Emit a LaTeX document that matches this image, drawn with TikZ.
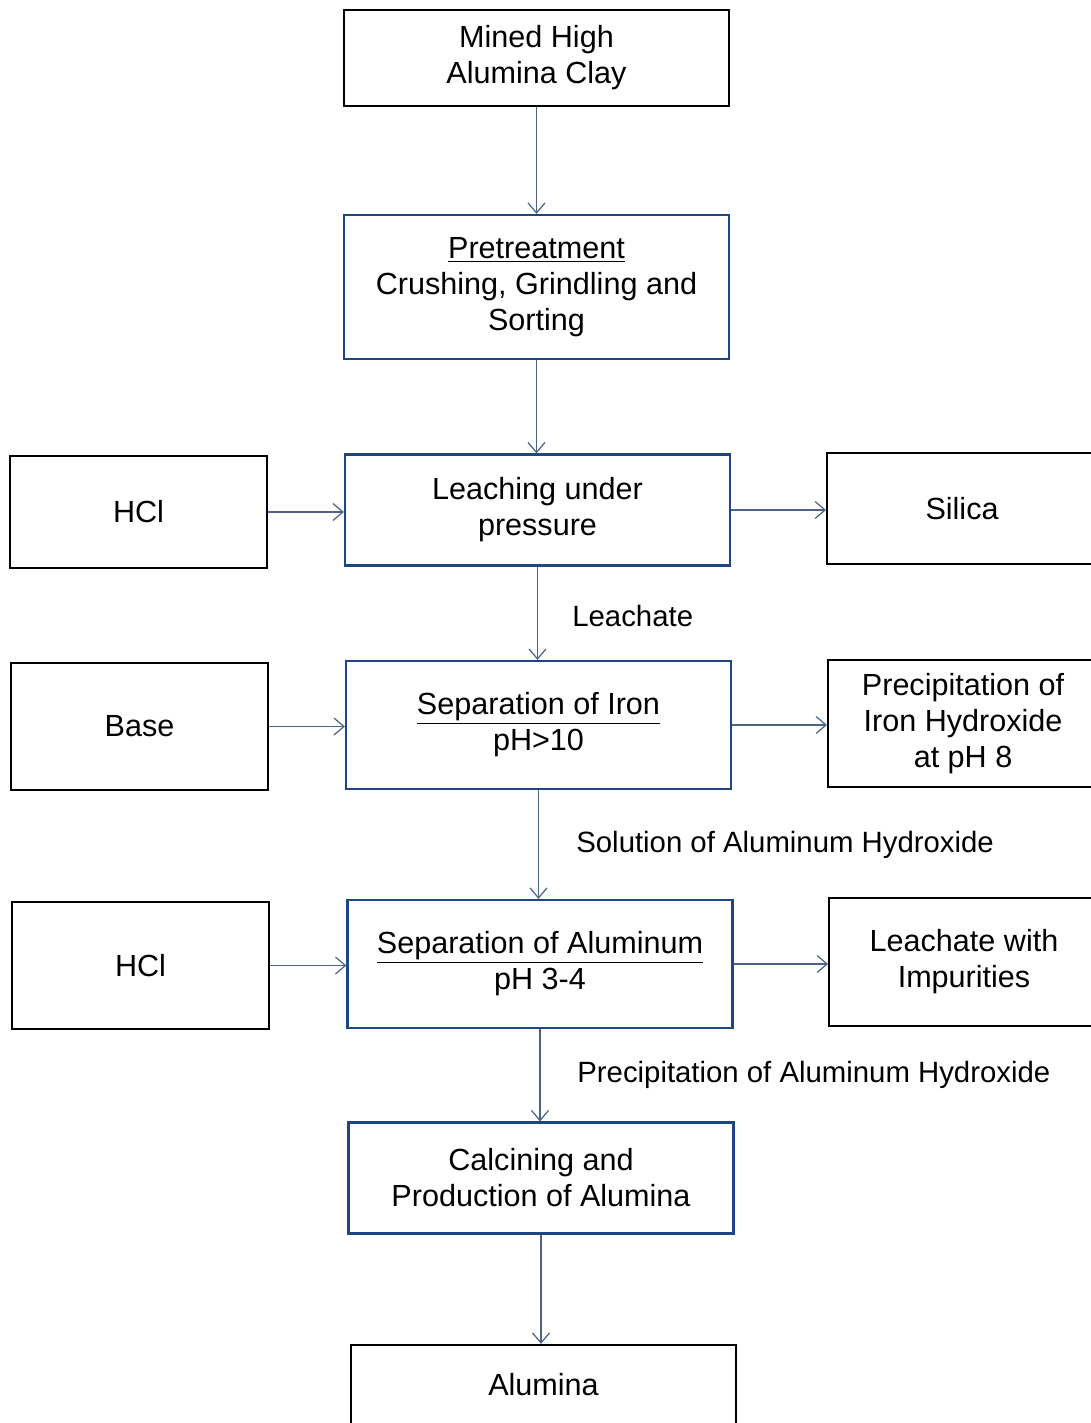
\documentclass[tikz,border=0pt]{standalone}
\usepackage{fontspec}
\setmainfont{Liberation Sans}
\usepackage{xcolor}
\usetikzlibrary{arrows.meta}
\definecolor{boxblue}{RGB}{30,70,130}
\definecolor{linkgray}{RGB}{75,100,135}

\begin{document}
\begin{tikzpicture}[x=0.02cm, y=-0.02cm,
  every node/.style={font=\fontsize{17.4}{20.5}\selectfont, align=center, inner sep=0pt},
  stage/.style={draw=boxblue, line width=1.3pt, minimum width=7.7cm, fill=white},
  side/.style={draw=black, line width=1.2pt, minimum width=5.14cm, fill=white},
  outbox/.style={side, anchor=west, minimum width=5.4cm},
  streamlabel/.style={anchor=west, font=\fontsize{16.7}{20}\selectfont},
  link/.style={draw=linkgray, line width=0.7pt, -{Straight Barb[length=2mm,width=3.4mm]}}]
\useasboundingbox (0,0) rectangle (1091,1423);
\clip (0,0) rectangle (1091,1423);
% main line
\node[stage, draw=black, minimum height=1.92cm] (mined) at (536.5,58) {Mined High\\Alumina Clay};
\node[stage, minimum height=2.88cm] (pretreat) at (536.5,287) {\underline{Pretreatment}\\Crushing, Grindling and\\Sorting};
\node[stage, minimum height=2.22cm] (leach) at (537.5,510) {Leaching under\\pressure};
\node[stage, minimum height=2.56cm] (sepiron) at (538.5,725) {\underline{Separation of Iron}\\pH>10};
\node[stage, minimum height=2.56cm] (sepal) at (540,964) {\underline{Separation of Aluminum}\\pH 3-4};
\node[stage, minimum height=2.22cm] (calcine) at (541,1178) {Calcining and\\Production of Alumina};
\node[stage, draw=black, minimum height=1.6cm] (alumina) at (543.5,1385) {Alumina};
% inputs
\node[side, minimum height=2.24cm] (hcla) at (138.5,512) {HCl};
\node[side, minimum height=2.54cm] (base) at (139.5,726.5) {Base};
\node[side, minimum height=2.54cm] (hclb) at (140.5,965.5) {HCl};
% outputs
\node[outbox, minimum height=2.22cm] (silica) at (826,508.5) {Silica};
\node[outbox, minimum height=2.54cm] (ironppt) at (827,723.5) {Precipitation of\\Iron Hydroxide\\at pH 8};
\node[outbox, minimum height=2.56cm] (impure) at (828,962) {Leachate with\\Impurities};
% stream labels
\node[streamlabel] (leachate) at (572,616) {Leachate};
\node[streamlabel] (alsol) at (576,845) {Solution of Aluminum Hydroxide};
\node[streamlabel] (alppt) at (577,1075) {Precipitation of Aluminum Hydroxide};
% connectors
\draw[link] (mined) -- (mined |- pretreat.north);
\draw[link] (pretreat) -- (pretreat |- leach.north);
\draw[link] (leach) -- (leach |- sepiron.north);
\draw[link] (sepiron) -- (sepiron |- sepal.north);
\draw[link] (sepal) -- (sepal |- calcine.north);
\draw[link] (calcine) -- (calcine |- alumina.north);
\draw[link] (hcla) -- (hcla -| leach.west);
\draw[link] (base) -- (base -| sepiron.west);
\draw[link] (hclb) -- (hclb -| sepal.west);
\draw[link] (leach) -- (leach -| silica.west);
\draw[link] (sepiron) -- (sepiron -| ironppt.west);
\draw[link] (sepal) -- (sepal -| impure.west);
\end{tikzpicture}
\end{document}
